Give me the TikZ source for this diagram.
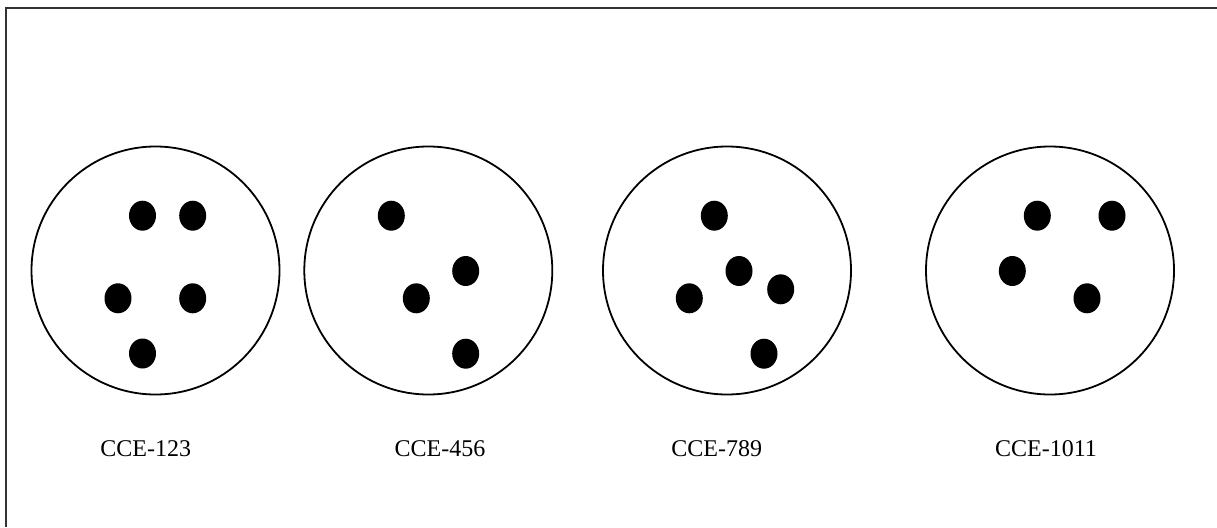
\documentclass[tikz,border=0pt]{standalone}
\usepackage{fontspec}
\setmainfont{Liberation Serif}
\usetikzlibrary{shapes.geometric}
\begin{document}
\begin{tikzpicture}[x=1pt,y=-1pt,
  dish/.style={circle,draw=black,line width=1.8pt,minimum size=248pt,inner sep=0pt},
  dot/.style={ellipse,fill=black,minimum width=27pt,minimum height=30pt,inner sep=0pt},
  tag/.style={anchor=base,font=\fontsize{24}{27}\selectfont,inner sep=0pt},
  edge/.style={draw=black!80,line width=1.8pt}]
\useasboundingbox (0,0) rectangle (1217,527);
% frame lines
\coordinate (fbl) at (6,527);
\coordinate (ftl) at (6,8);
\coordinate (ftr) at (1217,8);
\draw[edge] (fbl) -- (ftl) -- (ftr);
% dishes
\node[dish] (d1) at (155.5,270.5) {};
\node[dish] (d2) at (428.3,270.5) {};
\node[dish] (d3) at (727,270.5) {};
\node[dish] (d4) at (1050,270.5) {};
% colonies
\foreach \x/\y [count=\i] in {142.5/215.7,192.7/215.7,118/298.3,192.7/298.3,142.5/353.5}
  \node[dot] (a\i) at (\x,\y) {};
\foreach \x/\y [count=\i] in {391.3/215.7,465.7/271,416.3/298.3,465.7/353.7}
  \node[dot] (b\i) at (\x,\y) {};
\foreach \x/\y [count=\i] in {714.3/215.7,739/271,780.7/289.3,689.3/298.3,764/353.7}
  \node[dot] (c\i) at (\x,\y) {};
\foreach \x/\y [count=\i] in {1037.3/215.7,1112/215.7,1012.3/271,1087/298.3}
  \node[dot] (e\i) at (\x,\y) {};
% labels
\node[tag] (l1) at (145.7,456) {CCE-123};
\node[tag] (l2) at (440,456) {CCE-456};
\node[tag] (l3) at (716.7,456) {CCE-789};
\node[tag] (l4) at (1046,456) {CCE-1011};
\end{tikzpicture}
\end{document}
